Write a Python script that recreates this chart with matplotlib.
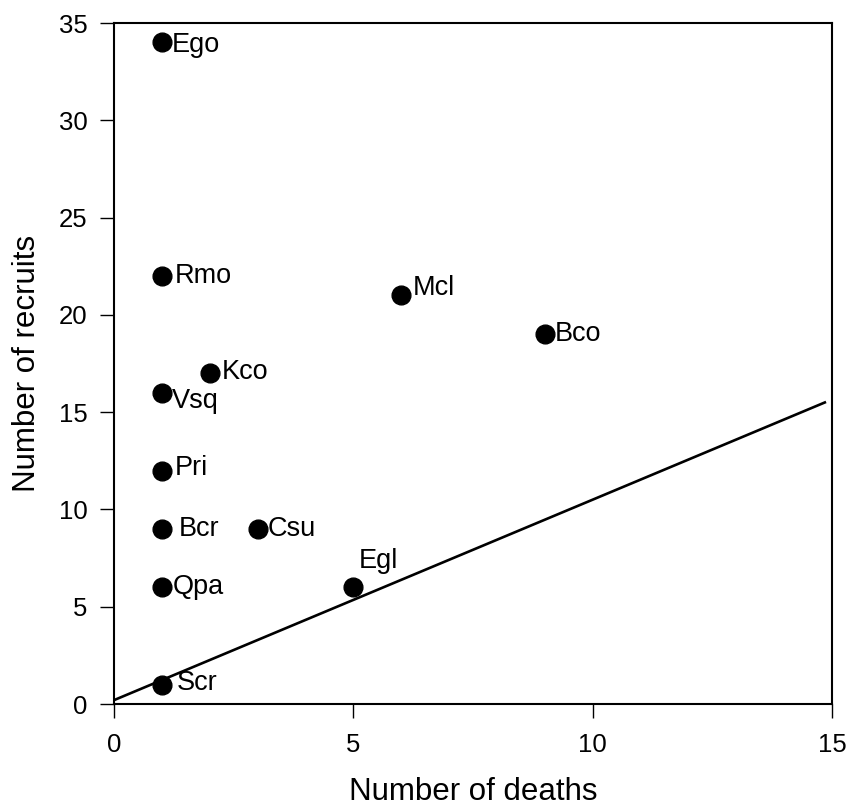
import matplotlib
matplotlib.use("Agg")
import matplotlib.pyplot as plt

# species codes with deaths and recruits
species = ["Ego", "Rmo", "Mcl", "Bco", "Kco", "Vsq", "Pri", "Bcr", "Csu", "Qpa", "Egl", "Scr"]
deaths = [1, 1, 6, 9, 2, 1, 1, 1, 3, 1, 5, 1]
recruits = [34, 22, 21, 19, 17, 16, 12, 9, 9, 6, 6, 1]

# reference line endpoints
line_x = [0, 14.85]
line_y = [0.2, 15.5]

x_ticks = [0, 5, 10, 15]
y_ticks = [0, 5, 10, 15, 20, 25, 30, 35]

# label offsets in points (dx, dy)
offsets = {
    "Ego": (7, -2), "Rmo": (9, 0), "Mcl": (8, 5), "Bco": (7, 0),
    "Kco": (9, 1), "Vsq": (7, -6), "Pri": (9, 2), "Bcr": (12, 0),
    "Csu": (7, 0), "Qpa": (8, 0), "Egl": (4, 19), "Scr": (11, 1),
}

plt.rcParams["font.family"] = ["Liberation Sans", "DejaVu Sans"]

fig = plt.figure(figsize=(8.47, 8.11), dpi=100)
ax = fig.add_axes([0.1346, 0.1319, 0.9823 - 0.1346, 0.9716 - 0.1319])

ax.plot(line_x, line_y, color="black", lw=1.9, zorder=2)
ax.plot(deaths, recruits, "o", color="black", ms=13.5, zorder=3)

for name, x, y in zip(species, deaths, recruits):
    dx, dy = offsets[name]
    ax.annotate(name, (x, y), xytext=(dx, dy), textcoords="offset points",
                ha="left", va="center", fontsize=19.5)

ax.set_xlim(0, 15)
ax.set_ylim(0, 35)
ax.set_xticks(x_ticks)
ax.set_yticks(y_ticks)
ax.tick_params(axis="both", direction="out", length=10, width=1, labelsize=18.5)
ax.tick_params(axis="x", pad=11)
ax.tick_params(axis="y", pad=9)

for s in ax.spines.values():
    s.set_linewidth(1.5)

ax.set_xlabel("Number of deaths", fontsize=22.5, labelpad=14)
ax.set_ylabel("Number of recruits", fontsize=22.5, labelpad=12)

fig.savefig("out.png", dpi=100)
